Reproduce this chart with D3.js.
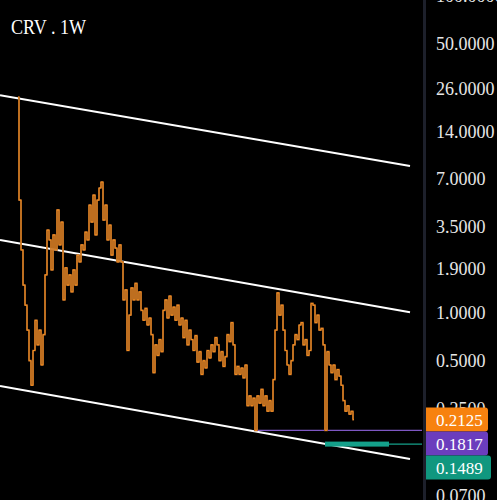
<!DOCTYPE html>
<html>
<head>
<meta charset="utf-8">
<script src="https://cdn.jsdelivr.net/npm/d3@7"></script>
<style>
  html, body { margin: 0; padding: 0; background: #000; }
  svg { display: block; }
</style>
</head>
<body>
<svg width="497" height="500"></svg>
<script>
// weekly closes (one every ~2px)
const closes = [
  23.0, 5.16, 2.50, 1.50, 1.12, 0.78, 0.50, 0.35, 0.58, 0.90,
  0.63, 0.78, 0.47, 0.73, 1.74, 3.34, 2.89, 1.87, 3.11, 2.50,
  4.47, 2.69, 3.75, 1.21, 1.93, 1.50, 1.74, 1.36, 1.87, 1.50,
  2.32, 2.10, 2.69, 2.50, 3.24, 2.89, 4.80, 3.75, 5.55, 3.11,
  5.16, 6.15, 6.71, 3.86, 4.80, 2.89, 3.59, 2.32, 2.89, 2.57,
  2.10, 2.69, 2.10, 1.21, 1.40, 0.58, 0.97, 1.44, 1.21, 1.54,
  1.21, 1.36, 1.04, 0.90, 1.07, 0.84, 0.93, 0.73, 0.42, 0.63,
  0.54, 0.68, 0.57, 1.04, 1.21, 0.93, 1.28, 0.97, 1.09, 0.90,
  1.12, 0.84, 0.93, 0.70, 0.90, 0.63, 0.78, 0.68, 0.58, 0.72,
  0.49, 0.57, 0.41, 0.50, 0.45, 0.58, 0.52, 0.63, 0.57, 0.70,
  0.63, 0.50, 0.57, 0.46, 0.53, 0.73, 0.66, 0.87, 0.63, 0.41,
  0.46, 0.41, 0.45, 0.39, 0.47, 0.26, 0.30, 0.26, 0.29, 0.1817,
  0.30, 0.27, 0.33, 0.26, 0.30, 0.24, 0.28, 0.24, 0.38, 0.78,
  1.34, 0.97, 1.12, 0.78, 0.58, 0.47, 0.41, 0.50, 0.63, 0.73,
  0.68, 0.84, 0.87, 0.63, 0.68, 0.54, 0.58, 1.15, 1.12, 0.87,
  0.97, 0.78, 0.80, 0.63, 0.1817, 0.57, 0.47, 0.42, 0.47, 0.38,
  0.44, 0.40, 0.35, 0.28, 0.24, 0.26, 0.23, 0.24, 0.2125
];

// channel lines: [week index, price] at both ends
const channelTop = [[-9, 23.7], [196, 8.46]];
const channelMid = [[-9, 2.89], [196, 1.01]];
const channelBot = [[-9, 0.346], [196, 0.12]];

const tickValues = [100, 50, 26, 14, 7, 3.5, 1.9, 1, 0.5, 0.25, 0.07];

const levels = [0.2125, 0.1817, 0.1489];
const levelColors = ["#f7820f", "#6b3dbd", "#10977f"];

const width = 497, height = 500;
const plotRight = 422;

const svg = d3.select("svg");

const x = d3.scaleLinear().domain([0, closes.length - 1]).range([18, 354]);
const y = d3.scaleLog().domain([0.0661, 94.4]).range([height, 0]);

// axis
const axis = d3.axisRight(y)
  .tickValues(tickValues)
  .tickFormat(d3.format(".4f"))
  .tickSize(0)
  .tickPadding(0);

const gAxis = svg.append("g")
  .attr("transform", `translate(436,0)`)
  .call(axis);
gAxis.select(".domain").remove();
gAxis.selectAll("text")
  .attr("fill", "#e6e6e6")
  .style("font-family", "'Liberation Serif', serif")
  .style("font-size", "18px");

// separator
svg.append("rect")
  .attr("x", 423).attr("y", 0)
  .attr("width", 3).attr("height", height)
  .attr("fill", "#1d202b");

// channel
const line2 = d3.line().x(d => x(d[0])).y(d => y(d[1]));
[channelTop, channelMid, channelBot].forEach(c => {
  svg.append("path")
    .attr("d", line2(c))
    .attr("stroke", "#fff")
    .attr("stroke-width", 2)
    .attr("fill", "none");
});

// level lines
svg.append("line")
  .attr("x1", x(119)).attr("x2", plotRight)
  .attr("y1", y(levels[1])).attr("y2", y(levels[1]))
  .attr("stroke", "#7e57c2").attr("stroke-width", 1.2);

svg.append("line")
  .attr("x1", x(185.5)).attr("x2", plotRight)
  .attr("y1", y(levels[2])).attr("y2", y(levels[2]))
  .attr("stroke", "#14a08a").attr("stroke-width", 1.2);

svg.append("rect")
  .attr("x", x(153.5)).attr("width", x(185.5) - x(153.5))
  .attr("y", y(levels[2]) - 2.5).attr("height", 5)
  .attr("fill", "#14a08a");

// price line, stepped so it reads like weekly bars
const line = d3.line().x((d, i) => x(i)).y(d => y(d)).curve(d3.curveStep);
svg.append("path")
  .datum(closes)
  .attr("d", line)
  .attr("fill", "none")
  .attr("stroke", "#9c5c28")
  .attr("stroke-width", 1.7);
svg.append("path")
  .datum(closes)
  .attr("d", line)
  .attr("fill", "none")
  .attr("stroke", "#f7901e")
  .attr("stroke-width", 1);

// price boxes, stacked so they don't overlap
let prev = -Infinity;
levels.forEach((v, i) => {
  const cy = Math.max(y(v), prev + 24);
  prev = cy;
  const w = i === 2 ? 65 : 62;
  const g = svg.append("g").attr("transform", `translate(426,${cy - 12})`);
  g.append("path")
    .attr("d", `M0,0H${w - 3}Q${w},0 ${w},3V21Q${w},24 ${w - 3},24H0Z`)
    .attr("fill", levelColors[i]);
  g.append("text")
    .attr("x", 10).attr("y", 18)
    .attr("fill", "#fff")
    .style("font-family", "'Liberation Serif', serif")
    .style("font-size", "17px")
    .text(d3.format(".4f")(v));
});

// title
svg.append("text")
  .attr("x", 11).attr("y", 34)
  .attr("fill", "#fff")
  .style("font-family", "'Liberation Serif', serif")
  .style("font-size", "21px")
  .attr("textLength", 75)
  .attr("lengthAdjust", "spacingAndGlyphs")
  .text("CRV . 1W");
</script>
</body>
</html>
